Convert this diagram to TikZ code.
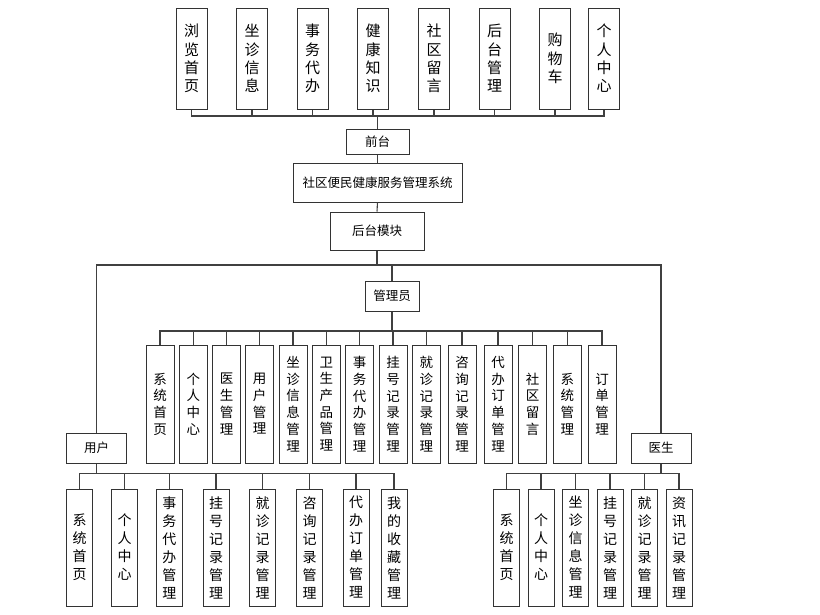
\documentclass[tikz,border=0pt]{standalone}
\usepackage{fontspec}
\setmainfont{Noto Sans CJK SC}
\begin{document}
\begin{tikzpicture}[x=1pt,y=-1pt,
  base/.style={draw=black!80, line width=1pt, fill=white, align=center, inner sep=0pt},
  tbox/.style={base, minimum width=31pt, minimum height=101pt, font=\fontsize{15}{18.3}\selectfont},
  hbox/.style={base, font=\fontsize{12.5}{14}\selectfont},
  abox/.style={base, minimum width=28pt, minimum height=118pt, font=\fontsize{13.5}{16.7}\selectfont},
  ubox/.style={base, minimum width=26pt, minimum height=117pt, font=\fontsize{14}{18}\selectfont},
  conn/.style={draw=black!75, line width=1.1pt}]
\useasboundingbox (0,0) rectangle (820,614);

% top row
\foreach \x/\t [count=\i] in {191.5/{浏\\览\\首\\页},252/{坐\\诊\\信\\息},312.5/{事\\务\\代\\办},373/{健\\康\\知\\识},434/{社\\区\\留\\言},494.5/{后\\台\\管\\理},555/{购\\物\\车},604/{个\\人\\中\\心}}
  \node[tbox] (t\i) at (\x,58.5) {\t};

\node[hbox, minimum width=63pt, minimum height=25pt] (qt) at (377.5,141.5) {前台};
\node[hbox, minimum width=169pt, minimum height=39pt] (sys) at (377.5,182.5) {社区便民健康服务管理系统};
\node[hbox, minimum width=94pt, minimum height=38pt] (ht) at (377,231) {后台模块};
\node[hbox, minimum width=54pt, minimum height=30pt] (gly) at (392,296) {管理员};
\node[hbox, minimum width=60pt, minimum height=30pt] (yh) at (96.7,448) {用户};
\node[hbox, minimum width=60pt, minimum height=30pt] (ys) at (661,448) {医生};

\coordinate (tb) at (377.5,116);
\foreach \i in {1,...,8} \draw[conn] (tb) -| (t\i.south);
\draw[conn] (tb) -- (qt.north);
\draw[conn] (qt.south) -- (sys.north);
\draw[conn] (sys.south) -- (ht.north);
\coordinate (hb) at (377,265);
\draw[conn] (ht.south) -- (hb);
\draw[conn] (yh.north) -- (yh.north |- hb) -- (ys.north |- hb) -- (ys.north);
\draw[conn] (gly.north) -- (gly.north |- hb);

% admin row
\foreach \x/\t [count=\i] in {160/{系\\统\\首\\页},193.3/{个\\人\\中\\心},226.5/{医\\生\\管\\理},259.7/{用\\户\\管\\理},293/{坐\\诊\\信\\息\\管\\理},326.3/{卫\\生\\产\\品\\管\\理},359.7/{事\\务\\代\\办\\管\\理},393/{挂\\号\\记\\录\\管\\理},426.3/{就\\诊\\记\\录\\管\\理},462/{咨\\询\\记\\录\\管\\理},498/{代\\办\\订\\单\\管\\理},532.5/{社\\区\\留\\言},567.3/{系\\统\\管\\理},602/{订\\单\\管\\理}}
  \node[abox] (a\i) at (\x,404) {\t};
\coordinate (ab) at (392,331);
\draw[conn] (gly.south) -- (ab);
\foreach \i in {1,...,14} \draw[conn] (ab) -| (a\i.north);

% user row
\foreach \x/\t [count=\i] in {79.5/{系\\统\\首\\页},124.5/{个\\人\\中\\心},169.3/{事\\务\\代\\办\\管\\理},216/{挂\\号\\记\\录\\管\\理},262.5/{就\\诊\\记\\录\\管\\理},309.5/{咨\\询\\记\\录\\管\\理},356/{代\\办\\订\\单\\管\\理},394/{我\\的\\收\\藏\\管\\理}}
  \node[ubox] (u\i) at (\x,547.5) {\t};
\coordinate (ub) at (96.7,473.3);
\draw[conn] (yh.south) -- (ub);
\foreach \i in {1,...,8} \draw[conn] (ub) -| (u\i.north);

% doctor row
\foreach \x/\t [count=\i] in {506.7/{系\\统\\首\\页},541/{个\\人\\中\\心},575.5/{坐\\诊\\信\\息\\管\\理},610/{挂\\号\\记\\录\\管\\理},644.5/{就\\诊\\记\\录\\管\\理},679/{资\\讯\\记\\录\\管\\理}}
  \node[ubox] (d\i) at (\x,547.5) {\t};
\coordinate (db) at (661,473.3);
\draw[conn] (ys.south) -- (db);
\foreach \i in {1,...,6} \draw[conn] (db) -| (d\i.north);
\end{tikzpicture}
\end{document}
